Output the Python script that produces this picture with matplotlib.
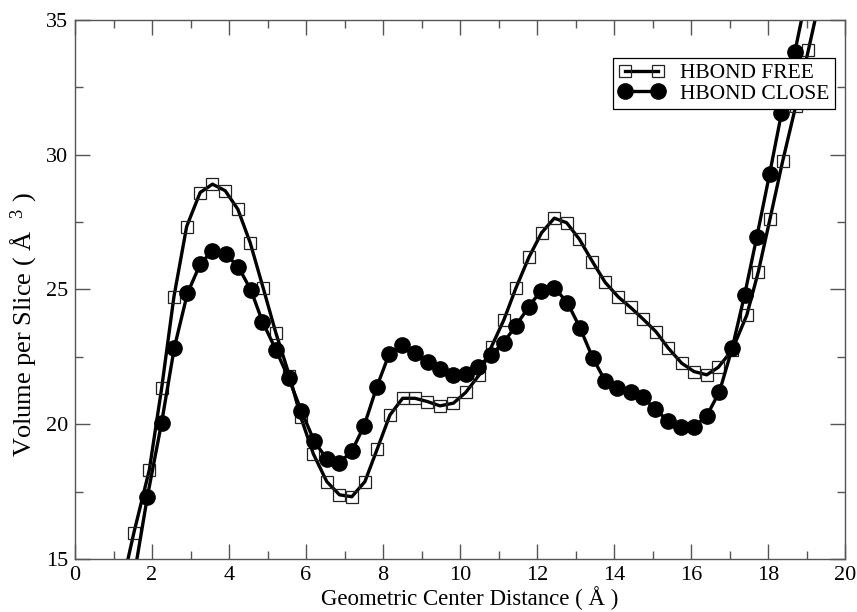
import matplotlib
matplotlib.use("Agg")
import matplotlib.pyplot as plt
from matplotlib.ticker import MultipleLocator

# HBOND FREE (open squares); first/last points lie just outside the axes
free_x = [1.22, 1.53, 1.93, 2.25, 2.57, 2.90, 3.25, 3.57, 3.90, 4.23, 4.55, 4.89,
          5.22, 5.57, 5.86, 6.19, 6.54, 6.87, 7.19, 7.53, 7.85, 8.18, 8.51, 8.83,
          9.15, 9.48, 9.83, 10.15, 10.50, 10.82, 11.14, 11.45, 11.79, 12.12, 12.45,
          12.77, 13.10, 13.44, 13.77, 14.11, 14.43, 14.76, 15.09, 15.41, 15.76,
          16.08, 16.41, 16.71, 17.07, 17.45, 17.75, 18.05, 18.38, 18.72, 19.05, 19.38]
free_y = [14.0, 15.98, 18.30, 21.33, 24.73, 27.33, 28.59, 28.90, 28.66, 27.97, 26.73, 25.04,
          23.37, 21.80, 20.28, 18.90, 17.87, 17.38, 17.31, 17.87, 19.08, 20.34, 20.96, 20.96,
          20.84, 20.68, 20.78, 21.18, 21.83, 22.88, 23.87, 25.04, 26.19, 27.10, 27.64,
          27.47, 26.86, 26.03, 25.26, 24.72, 24.33, 23.89, 23.43, 22.82, 22.26,
          21.95, 21.83, 22.11, 22.75, 24.05, 25.66, 27.60, 29.75, 31.80, 33.88, 36.0]

# HBOND CLOSE (filled circles)
close_x = [1.55, 1.88, 2.25, 2.58, 2.92, 3.25, 3.57, 3.91, 4.24, 4.57, 4.87, 5.22,
           5.55, 5.88, 6.21, 6.54, 6.87, 7.19, 7.51, 7.84, 8.16, 8.50, 8.83, 9.16,
           9.48, 9.83, 10.16, 10.48, 10.80, 11.13, 11.45, 11.79, 12.10, 12.45, 12.79,
           13.12, 13.45, 13.77, 14.09, 14.43, 14.75, 15.06, 15.41, 15.74, 16.08,
           16.41, 16.74, 17.07, 17.39, 17.71, 18.04, 18.35, 18.70, 19.03]
close_y = [14.5, 17.31, 20.06, 22.84, 24.85, 25.93, 26.44, 26.31, 25.84, 24.97, 23.80, 22.75,
           21.70, 20.49, 19.38, 18.71, 18.57, 19.00, 19.94, 21.39, 22.60, 22.94, 22.63, 22.32,
           22.04, 21.83, 21.86, 22.13, 22.57, 23.02, 23.65, 24.36, 24.95, 25.06, 24.51,
           23.56, 22.45, 21.61, 21.33, 21.21, 21.02, 20.55, 20.13, 19.91, 19.91,
           20.31, 21.21, 22.82, 24.78, 26.95, 29.27, 31.53, 33.82, 36.1]

plt.rcParams['font.family'] = ['Liberation Serif', 'DejaVu Serif']
plt.rcParams['mathtext.fontset'] = 'custom'
plt.rcParams['mathtext.rm'] = 'Liberation Serif'
plt.rcParams['mathtext.it'] = 'Liberation Serif'

fig = plt.figure(figsize=(8.57, 6.12), dpi=100)
ax = fig.add_axes([75 / 857, 1 - 559 / 612, 770 / 857, 539.3 / 612])

ax.plot(free_x, free_y, color='black', lw=2.4, marker='s', ms=9,
        mfc='none', mec='#222222', mew=0.9, label='HBOND FREE')
ax.plot(close_x, close_y, color='black', lw=2.4, marker='o', ms=11,
        mfc='black', mec='black', label='HBOND CLOSE')

ax.set_xlim(0, 20)
ax.set_ylim(15, 35)
ax.xaxis.set_major_locator(MultipleLocator(2))
ax.xaxis.set_minor_locator(MultipleLocator(1))
ax.yaxis.set_major_locator(MultipleLocator(5))
ax.yaxis.set_minor_locator(MultipleLocator(2.5))
ax.tick_params(which='both', direction='in', top=True, right=True,
               color='#555555', width=1, labelsize=16, pad=5)
ax.tick_params(which='major', length=11)
ax.tick_params(which='minor', length=6)
for s in ax.spines.values():
    s.set_color('#555555')
    s.set_linewidth(1)

ax.set_xlabel('Geometric Center Distance ( Å )', fontsize=16.5)
ax.set_ylabel('Volume per Slice ( Å  $^{3}$ )', fontsize=19)
ax.xaxis.set_label_coords(0.512, -0.051)
ax.yaxis.set_label_coords(-0.047, 0.435)

leg = ax.legend(loc='upper right', bbox_to_anchor=(0.987, 0.929), borderaxespad=0,
                fontsize=15.5, numpoints=2, handlelength=2.1, handletextpad=0.75,
                borderpad=0.25, labelspacing=0.0, fancybox=False, framealpha=1,
                edgecolor='black')
leg.get_frame().set_linewidth(0.9)

fig.savefig('out.png', dpi=100)
